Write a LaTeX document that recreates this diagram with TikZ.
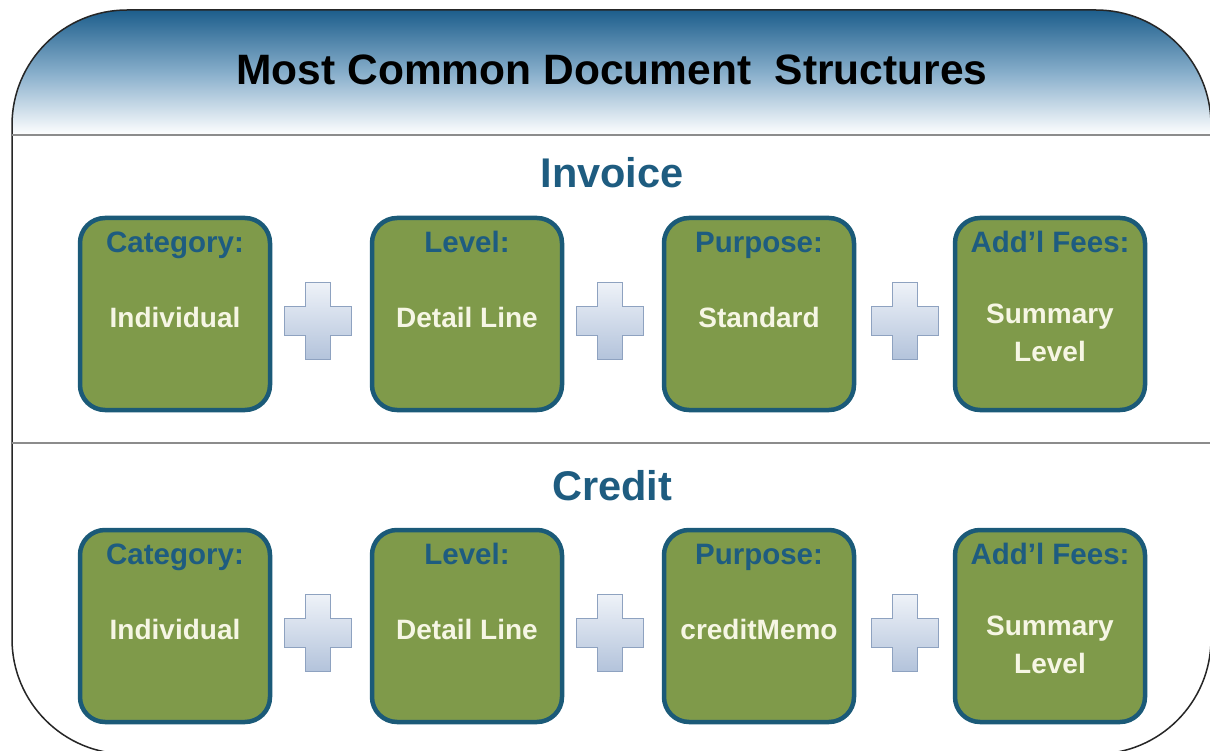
\documentclass[tikz,border=0pt]{standalone}
\usepackage{fontspec}
\setmainfont{Liberation Sans}
\usetikzlibrary{calc}
\definecolor{hdrblue}{HTML}{1D5E8C}
\definecolor{hdrmid}{HTML}{87AECB}
\definecolor{boxborder}{HTML}{1B5A78}
\definecolor{boxfill}{HTML}{7F9A4A}
\definecolor{labblue}{HTML}{1E5C80}
\definecolor{valtext}{HTML}{F6F6E4}
\definecolor{plusborder}{HTML}{8EA2C0}
\definecolor{plustop}{HTML}{EEF2F8}
\definecolor{plusbot}{HTML}{B3C3DB}
\tikzset{
  catbox/.style={draw=boxborder, line width=4.5pt, fill=boxfill, rounded corners=25pt,
    minimum width=190pt, minimum height=192pt, inner sep=0pt},
  cathead/.style={anchor=base, text=labblue, font=\fontsize{29.5}{31}\selectfont\bfseries, inner sep=0pt},
  catval/.style={anchor=base, text=valtext, font=\fontsize{28}{38}\selectfont\bfseries, inner sep=0pt, align=center},
  sectitle/.style={anchor=base, text=labblue, font=\fontsize{41.5}{44}\selectfont\bfseries, inner sep=0pt},
  divider/.style={draw=black!45, line width=1.6pt},
  plussign/.style={draw=plusborder, line width=1.2pt, top color=plustop, bottom color=plusbot}
}
\begin{document}
\begin{tikzpicture}[x=1pt,y=-1pt]
\useasboundingbox (0,0) rectangle (1210,751);
\fill[white] (0,0) rectangle (1210,751);
% outer panel and header
\begin{scope}
  \clip[rounded corners=115pt] (12,10) rectangle (1211,754);
  \shade[top color=hdrblue, bottom color=white, middle color=hdrmid, shading angle=0]
    (0,10) rectangle (1215,135);
\end{scope}
\draw[line width=1.5pt, draw=black!85, rounded corners=115pt] (12,10) rectangle (1211,754);
\coordinate (hl) at (12,135); \coordinate (hr) at (1211,135);
\coordinate (ml) at (12,443); \coordinate (mr) at (1211,443);
\draw[divider] (hl) -- (hr);
\draw[divider] (ml) -- (mr);
\node[anchor=base, inner sep=0pt, font=\fontsize{42.5}{45}\selectfont\bfseries] (title) at (612,85)
  {Most Common Document\ \ Structures};
\node[sectitle] (inv) at (612,188) {Invoice};
\node[sectitle] (cred) at (612,500) {Credit};
% boxes
\foreach \r/\y/\v in {a/314/Standard, b/626/creditMemo}{
  \node[catbox] (\r1) at (175,\y) {};
  \node[catbox] (\r2) at (467,\y) {};
  \node[catbox] (\r3) at (759,\y) {};
  \node[catbox] (\r4) at (1050,\y) {};
  \node[cathead] (\r1h) at ($(\r1.north)+(0,37)$) {Category:};
  \node[cathead] (\r2h) at ($(\r2.north)+(0,37)$) {Level:};
  \node[cathead] (\r3h) at ($(\r3.north)+(0,37)$) {Purpose:};
  \node[cathead] (\r4h) at ($(\r4.north)+(0,37)$) {Add’l Fees:};
  \node[catval] (\r1v) at ($(\r1.north)+(0,112)$) {Individual};
  \node[catval] (\r2v) at ($(\r2.north)+(0,112)$) {Detail Line};
  \node[catval] (\r3v) at ($(\r3.north)+(0,112)$) {\v};
  \node[catval] (\r4v) at ($(\r4.north)+(0,108)$) {Summary};
  \node[catval] (\r4w) at ($(\r4.north)+(0,146)$) {Level};
  \foreach \px in {318,610,905}{
    \coordinate (p\r\px) at (\px,\y+7);
    \path[plussign] ($(p\r\px)+(-12.5,-38.5)$) -- ++(25,0) -- ++(0,24) -- ++(21,0) -- ++(0,29)
      -- ++(-21,0) -- ++(0,24) -- ++(-25,0) -- ++(0,-24) -- ++(-21,0) -- ++(0,-29) -- ++(21,0) -- cycle;
  }
}
\end{tikzpicture}
\end{document}
